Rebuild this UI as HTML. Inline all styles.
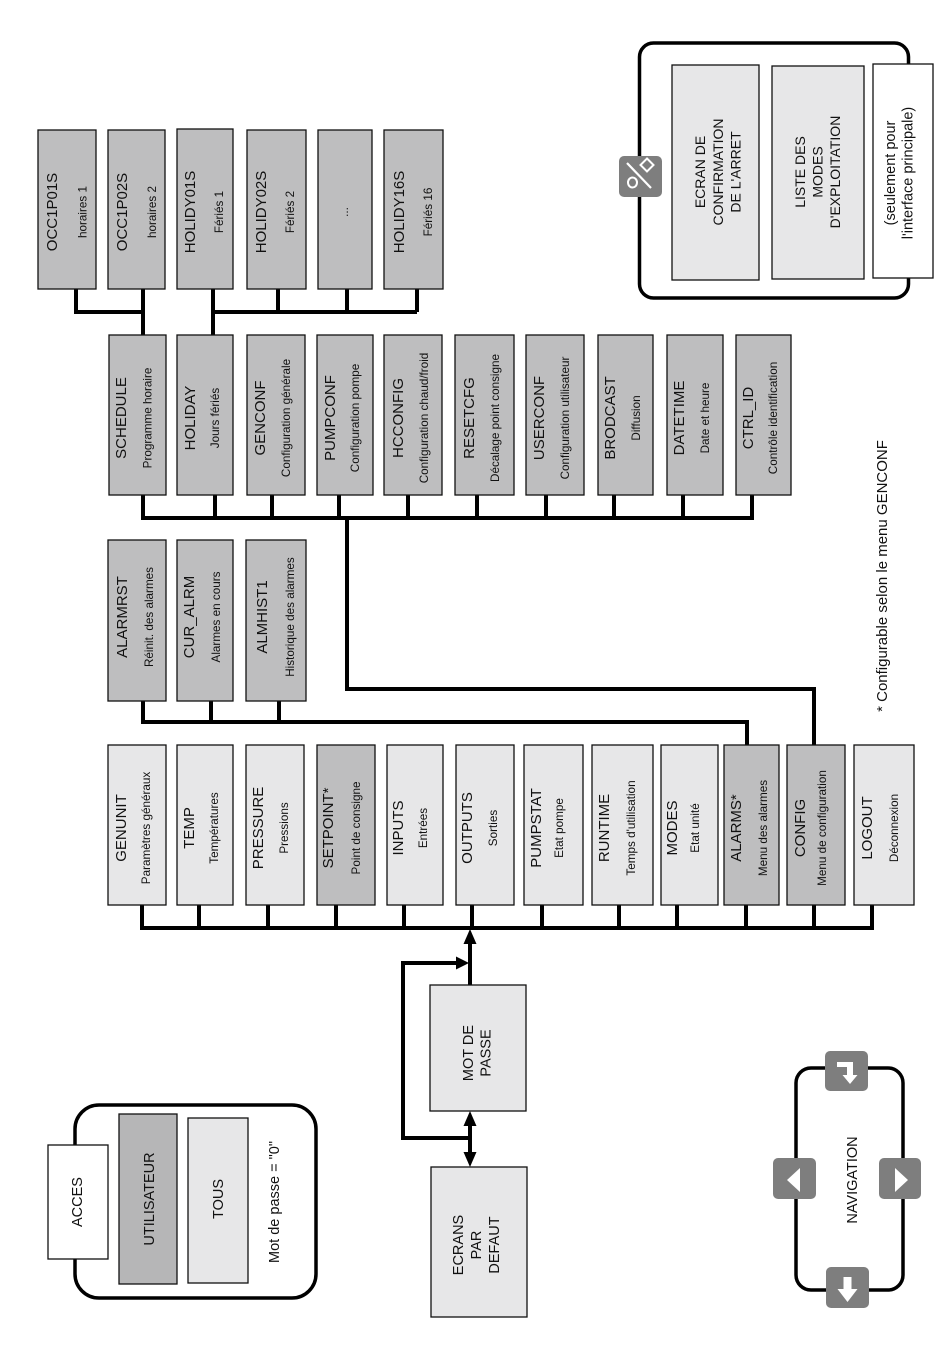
<!DOCTYPE html>
<html><head><meta charset="utf-8"><style>
html,body{margin:0;padding:0;background:#fff;}
svg{display:block;}
text{font-family:"Liberation Sans",Arial,sans-serif;fill:#111;}
.m{font-size:15px;}
.s{font-size:11.7px;}
.l{font-size:14px;}
.b{fill:#bebebf;stroke:#111;stroke-width:1.3;}
.w{fill:#e7e7e8;stroke:#111;stroke-width:1.3;}
.c{fill:none;stroke:#000;stroke-width:4;}
.o{fill:none;stroke:#000;stroke-width:3.5;}
.btn{fill:#7e7e7e;}
</style></head><body>
<svg width="950" height="1369" viewBox="0 0 950 1369" xmlns="http://www.w3.org/2000/svg">

<!-- ========== connectors ========== -->
<!-- top row -->
<path class="c" d="M76 289 V312 H143"/>
<path class="c" d="M143 289 V335"/>
<path class="c" d="M213 289 V335"/>
<path class="c" d="M213 312 H417"/>
<path class="c" d="M278 289 V312"/>
<path class="c" d="M347 289 V312"/>
<path class="c" d="M417 289 V312"/>
<!-- row 2 -->
<path class="c" d="M143 495 V518 H752 V495"/>
<path class="c" d="M215 495 V518"/>
<path class="c" d="M272 495 V518"/>
<path class="c" d="M339 495 V518"/>
<path class="c" d="M408 495 V518"/>
<path class="c" d="M477 495 V518"/>
<path class="c" d="M546 495 V518"/>
<path class="c" d="M614 495 V518"/>
<path class="c" d="M683 495 V518"/>
<path class="c" d="M347 518 V689 H814 V745"/>
<!-- row 3 -->
<path class="c" d="M143 701 V722 H747 V745"/>
<path class="c" d="M211 701 V722"/>
<path class="c" d="M279 701 V722"/>
<!-- main row -->
<path class="c" d="M142 905 V928 H872 V905"/>
<path class="c" d="M199 905 V928"/>
<path class="c" d="M268 905 V928"/>
<path class="c" d="M336 905 V928"/>
<path class="c" d="M404 905 V928"/>
<path class="c" d="M472 905 V928"/>
<path class="c" d="M542 905 V928"/>
<path class="c" d="M619 905 V928"/>
<path class="c" d="M677 905 V928"/>
<path class="c" d="M746 905 V928"/>
<path class="c" d="M814 905 V928"/>
<!-- password arrows -->
<path class="c" d="M470 942 V985"/>
<polygon points="470,929 463.5,944 476.5,944" fill="#000"/>
<path class="c" d="M470 1138 H403 V963 H458"/>
<polygon points="469,963 456,956.5 456,969.5" fill="#000"/>
<path class="c" d="M470 1124 V1154"/>
<polygon points="470,1111 463.5,1126 476.5,1126" fill="#000"/>
<polygon points="470,1167 463.5,1152 476.5,1152" fill="#000"/>

<!-- ========== top row boxes ========== -->
<rect class="b" x="38" y="130" width="58" height="159"/>
<text class="m" transform="translate(57,212) rotate(-90)" text-anchor="middle">OCC1P01S</text>
<text class="s" transform="translate(86.5,212) rotate(-90)" text-anchor="middle">horaires 1</text>
<rect class="b" x="108" y="130" width="57" height="159"/>
<text class="m" transform="translate(127,212) rotate(-90)" text-anchor="middle">OCC1P02S</text>
<text class="s" transform="translate(156,212) rotate(-90)" text-anchor="middle">horaires 2</text>
<rect class="b" x="177" y="129" width="56" height="160"/>
<text class="m" transform="translate(195,212) rotate(-90)" text-anchor="middle">HOLIDY01S</text>
<text class="s" transform="translate(223,212) rotate(-90)" text-anchor="middle">Fériés 1</text>
<rect class="b" x="247" y="130" width="59" height="159"/>
<text class="m" transform="translate(266,212) rotate(-90)" text-anchor="middle">HOLIDY02S</text>
<text class="s" transform="translate(294,212) rotate(-90)" text-anchor="middle">Fériés 2</text>
<rect class="b" x="318" y="130" width="54" height="159"/>
<text class="s" transform="translate(348,212) rotate(-90)" text-anchor="middle">...</text>
<rect class="b" x="384" y="130" width="59" height="159"/>
<text class="m" transform="translate(404,212) rotate(-90)" text-anchor="middle">HOLIDY16S</text>
<text class="s" transform="translate(432,212) rotate(-90)" text-anchor="middle">Fériés 16</text>

<!-- ========== row 2 ========== -->
<rect class="b" x="109" y="335" width="57" height="160"/>
<text class="m" transform="translate(126,418) rotate(-90)" text-anchor="middle">SCHEDULE</text>
<text class="s" transform="translate(151.5,418) rotate(-90)" text-anchor="middle">Programme horaire</text>
<rect class="b" x="177" y="335" width="56" height="160"/>
<text class="m" transform="translate(195,418) rotate(-90)" text-anchor="middle">HOLIDAY</text>
<text class="s" transform="translate(219,418) rotate(-90)" text-anchor="middle">Jours fériés</text>
<rect class="b" x="247" y="335" width="58" height="160"/>
<text class="m" transform="translate(265,418) rotate(-90)" text-anchor="middle">GENCONF</text>
<text class="s" transform="translate(290,418) rotate(-90)" text-anchor="middle">Configuration générale</text>
<rect class="b" x="317" y="335" width="56" height="160"/>
<text class="m" transform="translate(335,418) rotate(-90)" text-anchor="middle">PUMPCONF</text>
<text class="s" transform="translate(359,418) rotate(-90)" text-anchor="middle">Configuration pompe</text>
<rect class="b" x="384" y="335" width="58" height="160"/>
<text class="m" transform="translate(403,418) rotate(-90)" text-anchor="middle">HCCONFIG</text>
<text class="s" transform="translate(428,418) rotate(-90)" text-anchor="middle">Configuration chaud/froid</text>
<rect class="b" x="455" y="335" width="59" height="160"/>
<text class="m" transform="translate(474,418) rotate(-90)" text-anchor="middle">RESETCFG</text>
<text class="s" transform="translate(499,418) rotate(-90)" text-anchor="middle">Décalage point consigne</text>
<rect class="b" x="526" y="335" width="58" height="160"/>
<text class="m" transform="translate(544,418) rotate(-90)" text-anchor="middle">USERCONF</text>
<text class="s" transform="translate(569,418) rotate(-90)" text-anchor="middle">Configuration utilisateur</text>
<rect class="b" x="598" y="335" width="55" height="160"/>
<text class="m" transform="translate(615,418) rotate(-90)" text-anchor="middle">BRODCAST</text>
<text class="s" transform="translate(640,418) rotate(-90)" text-anchor="middle">Diffusion</text>
<rect class="b" x="667" y="335" width="56" height="160"/>
<text class="m" transform="translate(684,418) rotate(-90)" text-anchor="middle">DATETIME</text>
<text class="s" transform="translate(709,418) rotate(-90)" text-anchor="middle">Date et heure</text>
<rect class="b" x="736" y="335" width="55" height="160"/>
<text class="m" transform="translate(753,418) rotate(-90)" text-anchor="middle">CTRL_ID</text>
<text class="s" transform="translate(777,418) rotate(-90)" text-anchor="middle">Contrôle identification</text>

<!-- ========== row 3 ========== -->
<rect class="b" x="108" y="540" width="58" height="161"/>
<text class="m" transform="translate(127,617) rotate(-90)" text-anchor="middle">ALARMRST</text>
<text class="s" transform="translate(153,617) rotate(-90)" text-anchor="middle">Réinit. des alarmes</text>
<rect class="b" x="177" y="540" width="56" height="161"/>
<text class="m" transform="translate(194,617) rotate(-90)" text-anchor="middle">CUR_ALRM</text>
<text class="s" transform="translate(220,617) rotate(-90)" text-anchor="middle">Alarmes en cours</text>
<rect class="b" x="246" y="540" width="60" height="161"/>
<text class="m" transform="translate(267,617) rotate(-90)" text-anchor="middle">ALMHIST1</text>
<text class="s" transform="translate(294,617) rotate(-90)" text-anchor="middle">Historique des alarmes</text>

<!-- ========== main row ========== -->
<rect class="w" x="108" y="745" width="58" height="160"/>
<text class="m" transform="translate(126,828) rotate(-90)" text-anchor="middle">GENUNIT</text>
<text class="s" transform="translate(150,828) rotate(-90)" text-anchor="middle">Paramètres généraux</text>
<rect class="w" x="177" y="745" width="56" height="160"/>
<text class="m" transform="translate(194,828) rotate(-90)" text-anchor="middle">TEMP</text>
<text class="s" transform="translate(218,828) rotate(-90)" text-anchor="middle">Températures</text>
<rect class="w" x="246" y="745" width="58" height="160"/>
<text class="m" transform="translate(263,828) rotate(-90)" text-anchor="middle">PRESSURE</text>
<text class="s" transform="translate(288,828) rotate(-90)" text-anchor="middle">Pressions</text>
<rect class="b" x="317" y="745" width="58" height="160"/>
<text class="m" transform="translate(333,828) rotate(-90)" text-anchor="middle">SETPOINT*</text>
<text class="s" transform="translate(360,828) rotate(-90)" text-anchor="middle">Point de consigne</text>
<rect class="w" x="387" y="745" width="56" height="160"/>
<text class="m" transform="translate(403,828) rotate(-90)" text-anchor="middle">INPUTS</text>
<text class="s" transform="translate(427,828) rotate(-90)" text-anchor="middle">Entrées</text>
<rect class="w" x="456" y="745" width="58" height="160"/>
<text class="m" transform="translate(472,828) rotate(-90)" text-anchor="middle">OUTPUTS</text>
<text class="s" transform="translate(497,828) rotate(-90)" text-anchor="middle">Sorties</text>
<rect class="w" x="524" y="745" width="59" height="160"/>
<text class="m" transform="translate(541,828) rotate(-90)" text-anchor="middle">PUMPSTAT</text>
<text class="s" transform="translate(563,828) rotate(-90)" text-anchor="middle">Etat pompe</text>
<rect class="w" x="592" y="745" width="61" height="160"/>
<text class="m" transform="translate(609,828) rotate(-90)" text-anchor="middle">RUNTIME</text>
<text class="s" transform="translate(635,828) rotate(-90)" text-anchor="middle">Temps d'utilisation</text>
<rect class="w" x="661" y="745" width="57" height="160"/>
<text class="m" transform="translate(677,828) rotate(-90)" text-anchor="middle">MODES</text>
<text class="s" transform="translate(699,828) rotate(-90)" text-anchor="middle">Etat unité</text>
<rect class="b" x="724" y="745" width="55" height="160"/>
<text class="m" transform="translate(741,828) rotate(-90)" text-anchor="middle">ALARMS*</text>
<text class="s" transform="translate(767,828) rotate(-90)" text-anchor="middle">Menu des alarmes</text>
<rect class="b" x="787" y="745" width="58" height="160"/>
<text class="m" transform="translate(805,828) rotate(-90)" text-anchor="middle">CONFIG</text>
<text class="s" transform="translate(826,828) rotate(-90)" text-anchor="middle">Menu de configuration</text>
<rect class="w" x="854" y="745" width="60" height="160"/>
<text class="m" transform="translate(872,828) rotate(-90)" text-anchor="middle">LOGOUT</text>
<text class="s" transform="translate(898,828) rotate(-90)" text-anchor="middle">Déconnexion</text>

<!-- footnote -->
<text class="m" transform="translate(887,576) rotate(-90)" text-anchor="middle">* Configurable selon le menu GENCONF</text>

<!-- ========== password / default ========== -->
<rect class="w" x="430" y="985" width="96" height="126"/>
<text class="l" style="font-size:14.5px" transform="translate(473,1053) rotate(-90)" text-anchor="middle">MOT DE</text>
<text class="l" style="font-size:14.5px" transform="translate(490.5,1053) rotate(-90)" text-anchor="middle">PASSE</text>
<rect class="w" x="431" y="1167" width="96" height="150"/>
<text class="l" style="font-size:14.5px" transform="translate(463,1245) rotate(-90)" text-anchor="middle">ECRANS</text>
<text class="l" style="font-size:14.5px" transform="translate(481,1245) rotate(-90)" text-anchor="middle">PAR</text>
<text class="l" style="font-size:14.5px" transform="translate(499,1245) rotate(-90)" text-anchor="middle">DEFAUT</text>

<!-- ========== legend top right ========== -->
<rect class="o" x="639.5" y="43" width="269" height="255" rx="14" ry="14"/>
<rect class="w" x="672" y="65" width="87" height="215"/>
<text class="l" transform="translate(705,172) rotate(-90)" text-anchor="middle">ECRAN DE</text>
<text class="l" transform="translate(723,172) rotate(-90)" text-anchor="middle">CONFIRMATION</text>
<text class="l" transform="translate(740.5,172) rotate(-90)" text-anchor="middle">DE L'ARRET</text>
<rect class="w" x="772" y="66" width="92" height="213"/>
<text class="l" transform="translate(805,172) rotate(-90)" text-anchor="middle">LISTE DES</text>
<text class="l" transform="translate(822.5,172) rotate(-90)" text-anchor="middle">MODES</text>
<text class="l" transform="translate(840,172) rotate(-90)" text-anchor="middle">D'EXPLOITATION</text>
<rect x="873" y="64" width="60" height="214" fill="#fff" stroke="#111" stroke-width="1.3"/>
<text class="l" style="font-size:14.5px" transform="translate(895,173) rotate(-90)" text-anchor="middle">(seulement pour</text>
<text class="l" style="font-size:14.5px" transform="translate(912.5,173) rotate(-90)" text-anchor="middle">l'interface principale)</text>
<!-- icon -->
<rect class="btn" x="619" y="156" width="43" height="41" rx="5" ry="5"/>
<line x1="627" y1="163" x2="651" y2="188" stroke="#fff" stroke-width="2.2"/>
<ellipse cx="632.5" cy="182.5" rx="4.5" ry="5" fill="none" stroke="#fff" stroke-width="2"/>
<polygon points="647,158.5 653.5,165 647,171.5 640.5,165" fill="none" stroke="#fff" stroke-width="2"/>

<!-- ========== ACCES legend ========== -->
<rect class="o" x="75" y="1105" width="241" height="193" rx="24" ry="24"/>
<rect x="48" y="1145" width="60" height="114" fill="#fff" stroke="#111" stroke-width="1.3"/>
<text class="l" style="font-size:14.5px" transform="translate(82,1202) rotate(-90)" text-anchor="middle">ACCES</text>
<rect x="119" y="1114" width="58" height="170" fill="#b6b6b7" stroke="#111" stroke-width="1.3"/>
<text class="l" style="font-size:14.5px" transform="translate(154,1199) rotate(-90)" text-anchor="middle">UTILISATEUR</text>
<rect class="w" x="188" y="1118" width="60" height="165"/>
<text class="l" style="font-size:14.5px" transform="translate(223,1199) rotate(-90)" text-anchor="middle">TOUS</text>
<text class="l" style="font-size:14.5px" transform="translate(279,1202) rotate(-90)" text-anchor="middle">Mot de passe = "0"</text>

<!-- ========== NAVIGATION ========== -->
<rect class="o" x="796" y="1068" width="107" height="222" rx="15" ry="15"/>
<text class="l" style="font-size:14.5px" transform="translate(857,1180) rotate(-90)" text-anchor="middle">NAVIGATION</text>
<rect class="btn" x="825" y="1051" width="43" height="40" rx="5" ry="5"/>
<polygon points="837,1062 853,1062 853,1075 857.5,1075 850,1084 842.5,1075 847,1075 847,1067 837,1067" fill="#fff"/>
<rect class="btn" x="773" y="1158" width="43" height="41" rx="5" ry="5"/>
<polygon points="787,1180 800,1168 800,1192" fill="#fff"/>
<rect class="btn" x="879" y="1158" width="42" height="41" rx="5" ry="5"/>
<polygon points="908,1180 895,1168 895,1192" fill="#fff"/>
<rect class="btn" x="826" y="1267" width="43" height="41" rx="5" ry="5"/>
<polygon points="843.5,1277 851.5,1277 851.5,1289 857.5,1289 847.5,1302 837.5,1289 843.5,1289" fill="#fff"/>

</svg>
</body></html>
